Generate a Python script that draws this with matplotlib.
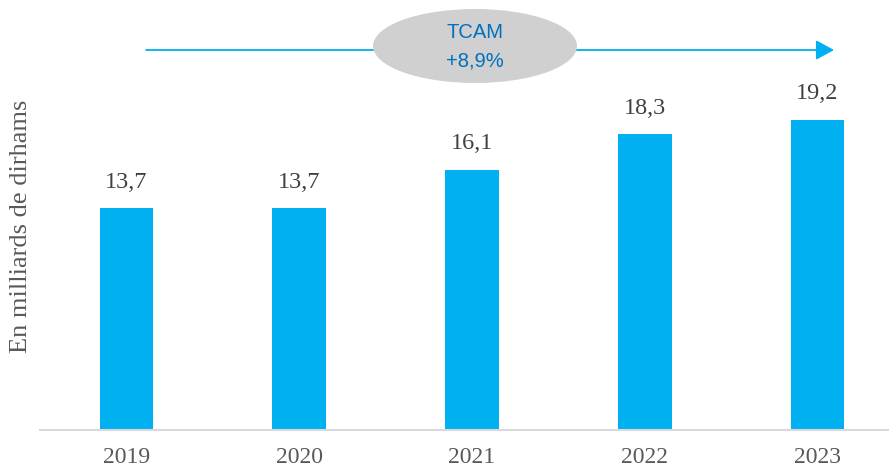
import matplotlib
matplotlib.use("Agg")
import matplotlib.pyplot as plt
from matplotlib.patches import Ellipse, FancyArrowPatch

years = ["2019", "2020", "2021", "2022", "2023"]
values = [13.7, 13.7, 16.1, 18.3, 19.2]
labels = ["13,7", "13,7", "16,1", "18,3", "19,2"]
ylabel = "En milliards de dirhams"
cagr_title = "TCAM"
cagr_value = "+8,9%"

W, H = 889, 468
fig = plt.figure(figsize=(W / 100, H / 100), dpi=100)

# axes in pixel coordinates (left 40, right 904, bottom 430, top 30)
left, right, top, bottom = 40, 904, 30, 430
ax = fig.add_axes([left / W, 1 - bottom / H, (right - left) / W, (bottom - top) / H])
x = range(len(years))
ax.bar(x, values, width=0.31, color="#00B0F0", zorder=2)
ax.set_xlim(-0.5, 4.5)
ax.set_ylim(0, 400 / 16.17)
for s in ["top", "right", "left"]:
    ax.spines[s].set_visible(False)
ax.spines["bottom"].set_color("#D9D9D9")
ax.spines["bottom"].set_linewidth(1.5)
ax.set_yticks([])
ax.set_xticks(list(x))
ax.set_xticklabels(years, family="Liberation Serif", fontsize=17, color="#595959")
ax.tick_params(axis="x", length=0, pad=12)
for xi, v, lab in zip(x, values, labels):
    ax.annotate(lab, (xi, v), xytext=(0, 18.5), textcoords="offset points",
                ha="center", va="center", family="Liberation Serif",
                fontsize=17.5, color="#404040")

fig.text(21 / W, 1 - 226 / H, ylabel, rotation=90, ha="center", va="center",
         family="Liberation Serif", fontsize=19, color="#595959")

# overlay for arrow and ellipse in pixel coords
ov = fig.add_axes([0, 0, 1, 1], zorder=5)
ov.set_xlim(0, W)
ov.set_ylim(H, 0)
ov.axis("off")
ov.patch.set_alpha(0)
arr = FancyArrowPatch((146, 50), (834, 50), arrowstyle="-|>,head_length=5.5,head_width=3",
                      color="#00B0F0", lw=1.3, mutation_scale=2.0, shrinkA=0, shrinkB=0)
ov.add_patch(arr)
ov.add_patch(Ellipse((475, 46), 204, 74, facecolor="#D0D0D0", edgecolor="none", zorder=3))
ov.text(475, 33, cagr_title, ha="center", va="center", family="Liberation Sans",
        fontsize=14.5, color="#0070C0", zorder=4)
ov.text(475, 61, cagr_value, ha="center", va="center", family="Liberation Sans",
        fontsize=14.5, color="#0070C0", zorder=4)

fig.savefig("out.png", dpi=100)
